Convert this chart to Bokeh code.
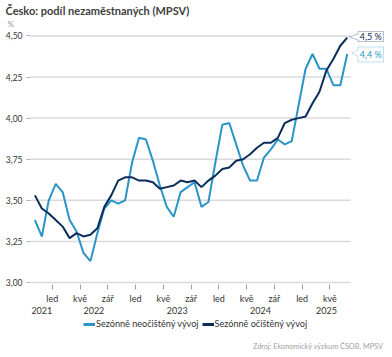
import pandas as pd
from bokeh.plotting import figure
from bokeh.layouts import column
from bokeh.models import (Range1d, FixedTicker, LinearAxis, Label, PolyAnnotation,
                          Legend, LegendItem, CustomJSTickFormatter, Title)
from bokeh.embed import file_html
from bokeh.resources import INLINE

# ---------------- data ----------------
start_month = "2021-10"
unadj = [3.38, 3.28, 3.50,
         3.60, 3.55, 3.38, 3.31, 3.18, 3.13, 3.30, 3.45, 3.50, 3.48, 3.50, 3.73,
         3.88, 3.87, 3.74, 3.59, 3.46, 3.40, 3.55, 3.58, 3.61, 3.46, 3.49, 3.73,
         3.96, 3.97, 3.84, 3.71, 3.62, 3.62, 3.76, 3.81, 3.87, 3.84, 3.86, 4.08,
         4.30, 4.39, 4.30, 4.30, 4.20, 4.20, 4.39]
adj = [3.53, 3.45, 3.42,
       3.38, 3.34, 3.27, 3.30, 3.28, 3.29, 3.33, 3.46, 3.53, 3.62, 3.64, 3.64,
       3.62, 3.62, 3.61, 3.57, 3.58, 3.59, 3.62, 3.61, 3.62, 3.58, 3.62, 3.65,
       3.69, 3.70, 3.74, 3.75, 3.78, 3.82, 3.85, 3.85, 3.88, 3.97, 3.99, 4.00,
       4.01, 4.09, 4.16, 4.29, 4.36, 4.44, 4.49]
month_abbr = ["led", "úno", "bře", "dub", "kvě", "čvn", "čvc", "srp", "zář", "říj", "lis", "pro"]
tick_months = [1, 5, 9]
y_ticks = [3.0, 3.25, 3.5, 3.75, 4.0, 4.25, 4.5]
series_names = ["Sezónně neočištěný vývoj", "Sezónně očištěný vývoj"]
title_text = "Česko: podíl nezaměstnaných (MPSV)"
unit_text = "%"
source_text = "Zdroj: Ekonomický výzkum ČSOB, MPSV"

dates = pd.date_range(start_month + "-01", periods=len(unadj), freq="MS")
idx = list(range(len(dates)))
x_ticks = [i - 0.5 for i, d in enumerate(dates) if d.month in tick_months]
x_labels = [month_abbr[d.month - 1] for d in dates if d.month in tick_months]
years = sorted(set(d.year for d in dates))
year_pos = []
for yr in years:
    ii = [i for i, d in enumerate(dates) if d.year == yr]
    year_pos.append((ii[0] + ii[-1]) / 2.0)
year_labels = [str(y) for y in years]

# ---------------- style ----------------
BLUE = "#2a94c6"
NAVY = "#0c2c5a"
FONT = "Lato"
TXT = "#333333"
W, H1, H2 = 392, 316, 41
L, R, T, B = 30, 0, 28, 32
FW, FH = W - L - R, H1 - T - B
PXX = 6.941          # px per month
PXY = 164.4          # px per percentage point
X0 = -4.4 / PXX
X1 = X0 + FW / PXX
Y0 = 3.0 - 2.0 / PXY
Y1 = Y0 + FH / PXY


def rx(x):  # canvas px -> data x
    return X0 + (x - L) / PXX


def ry(y):  # canvas px -> data y
    return Y0 + (T + FH - y) / PXY


p = figure(width=W, height=H1, x_range=Range1d(X0, X1), y_range=Range1d(Y0, Y1),
           output_backend="svg", toolbar_location=None,
           min_border_left=L, min_border_right=R, min_border_top=T, min_border_bottom=B,
           background_fill_color="white", border_fill_color="white", outline_line_color=None)

# titles above
p.add_layout(Title(text=unit_text, align="left", offset=-23, standoff=0,
                   text_font=FONT, text_font_size="8px", text_font_style="normal",
                   text_color="#9a9a9a"), "above")
p.add_layout(Title(text=title_text, align="left", offset=-25, standoff=0,
                   text_font=FONT, text_font_size="11px", text_font_style="bold",
                   text_color="#404040"), "above")

# y axis
yax = p.yaxis[0]
yax.ticker = FixedTicker(ticks=y_ticks)
yax.formatter = CustomJSTickFormatter(code="return tick.toFixed(2).replace('.', ',');")
yax.axis_line_color = None
yax.major_tick_out = 4
yax.major_tick_in = 0
yax.major_tick_line_color = "#b0b0b0"
yax.minor_tick_line_color = None
yax.major_label_standoff = 4
yax.major_label_text_font = FONT
yax.major_label_text_font_size = "8.5px"
yax.major_label_text_color = TXT

# horizontal gridlines only across the data area
p.grid.visible = False
p.segment(x0=[X0] * len(y_ticks), x1=[len(idx) - 0.5] * len(y_ticks), y0=y_ticks, y1=y_ticks,
          line_color="#dadada", line_width=1.5)

LOOKUP = """
    const i = tpos.indexOf(tick);
    return i >= 0 ? tlab[i] : '';
"""

# x axis (months)
xax = p.xaxis[0]
xax.ticker = FixedTicker(ticks=x_ticks)
xax.formatter = CustomJSTickFormatter(args=dict(tpos=x_ticks, tlab=x_labels), code=LOOKUP)
xax.axis_line_color = None
xax.major_tick_out = 5
xax.major_tick_in = 0
xax.major_tick_line_color = "#a0a0a0"
xax.minor_tick_line_color = None
xax.major_label_standoff = 3
xax.major_label_text_font = FONT
xax.major_label_text_font_size = "9px"
xax.major_label_text_color = TXT

# x axis (years)
yrax = LinearAxis(ticker=FixedTicker(ticks=year_pos),
                  formatter=CustomJSTickFormatter(args=dict(tpos=year_pos, tlab=year_labels),
                                                  code=LOOKUP))
yrax.axis_line_color = None
yrax.major_tick_line_color = None
yrax.minor_tick_line_color = None
yrax.major_tick_out = 0
yrax.major_tick_in = 0
yrax.major_label_standoff = 0
yrax.major_label_text_font = FONT
yrax.major_label_text_font_size = "9px"
yrax.major_label_text_color = TXT
p.add_layout(yrax, "below")

# lines
r1 = p.line(idx, unadj, line_color=BLUE, line_width=2)
r2 = p.line(idx, adj, line_color=NAVY, line_width=2)

# callouts
def callout(top, bottom, tip_x, tip_y, color, text):
    left, right = 357.5, 383.0
    xs = [left, right, right, left, left, tip_x, left]
    ys = [top, top, bottom, bottom, tip_y + 3, tip_y, tip_y - 3]
    p.add_layout(PolyAnnotation(xs=[rx(x) for x in xs], ys=[ry(y) for y in ys],
                                fill_color="white", fill_alpha=1.0,
                                line_color=color, line_width=1))
    p.add_layout(Label(x=rx((left + right) / 2), y=ry((top + bottom) / 2), text=text,
                       text_align="center", text_baseline="middle",
                       text_font=FONT, text_font_size="9px", text_color=color))


fmt = lambda v: ("%.1f %%" % v).replace(".", ",")
callout(31, 41, 349, 36.5, NAVY, fmt(adj[-1]))
callout(46.5, 61.5, 351.5, 52.5, BLUE, fmt(unadj[-1]))

# ---------------- legend + source strip ----------------
p2 = figure(width=W, height=H2, x_range=Range1d(0, W), y_range=Range1d(H2, 0),
            x_axis_type=None, y_axis_type=None, output_backend="svg", toolbar_location=None,
            min_border=0, outline_line_color=None,
            background_fill_color="white", border_fill_color="white")
p2.grid.visible = False
nan = float("nan")
k1 = p2.line(x=[nan], y=[nan], line_color=BLUE, line_width=3)   # legend key only
k2 = p2.line(x=[nan], y=[nan], line_color=NAVY, line_width=3)   # legend key only
legend = Legend(items=[LegendItem(label=series_names[0], renderers=[k1]),
                       LegendItem(label=series_names[1], renderers=[k2])],
                orientation="horizontal", location=(53, 28),
                border_line_color=None, background_fill_alpha=0,
                label_text_font=FONT, label_text_font_size="9.1px", label_text_color=TXT,
                glyph_width=12, glyph_height=8, label_standoff=1, spacing=3,
                padding=0, margin=0, label_height=10)
p2.add_layout(legend)
p2.add_layout(Label(x=382, y=30, text=source_text, text_align="right", text_baseline="alphabetic",
                    text_font=FONT, text_font_size="7.3px", text_color="#a0a0a0"))

layout = column(p, p2, spacing=0)
open("out.html", "w").write(file_html(layout, INLINE))
